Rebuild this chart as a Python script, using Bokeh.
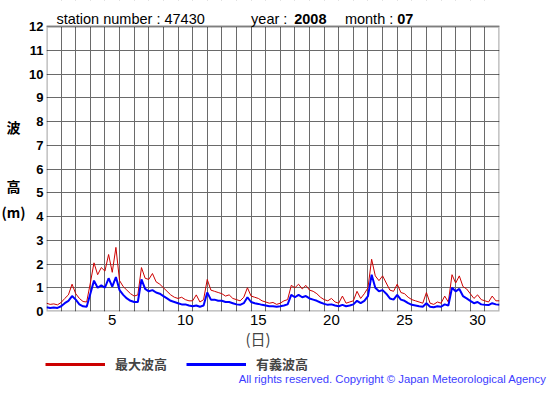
from bokeh.plotting import figure
from bokeh.models import FixedTicker, Range1d, Legend, LegendItem, Label, BoxAnnotation
from bokeh.layouts import row, column
from bokeh.embed import file_html
from bokeh.resources import INLINE

# ---- data (6-hourly samples, day 1 00h .. day 31 24h) ----
max_wave = [
    0.35, 0.30, 0.32, 0.28,
    0.38, 0.55, 0.70, 1.15,
    0.75, 0.55, 0.42, 0.40,
    1.20, 2.05, 1.55, 1.85,
    1.70, 2.40, 1.65, 2.70,
    1.30, 1.05, 0.90, 0.75,
    0.65, 0.70, 1.85, 1.40,
    1.35, 1.60, 1.25, 1.15,
    1.00, 0.85, 0.70, 0.60,
    0.55, 0.60, 0.50, 0.45,
    0.45, 0.70, 0.40, 0.50,
    1.35, 0.90, 0.85, 0.80,
    0.75, 0.65, 0.70, 0.55,
    0.50, 0.45, 0.60, 1.00,
    0.65, 0.60, 0.55, 0.45,
    0.40, 0.35, 0.38, 0.30,
    0.35, 0.45, 0.50, 1.10,
    1.00, 1.15, 0.95, 1.10,
    0.90, 0.85, 0.75, 0.60,
    0.50, 0.45, 0.55, 0.40,
    0.35, 0.65, 0.35, 0.40,
    0.45, 0.85, 0.55, 0.75,
    1.00, 2.20, 1.50, 1.30,
    1.50, 1.20, 0.90, 0.85,
    1.15, 0.80, 0.75, 0.60,
    0.50, 0.45, 0.40, 0.35,
    0.80, 0.35, 0.30, 0.40,
    0.35, 0.65, 0.40, 1.55,
    1.20, 1.50, 1.05, 0.95,
    0.75, 0.55, 0.70, 0.50,
    0.45, 0.40, 0.65, 0.45,
    0.45,
]
sig_wave = [
    0.18, 0.15, 0.17, 0.15,
    0.22, 0.35, 0.45, 0.65,
    0.50, 0.30, 0.22, 0.20,
    0.75, 1.30, 1.00, 1.10,
    1.00, 1.40, 1.05, 1.45,
    0.90, 0.70, 0.55, 0.45,
    0.40, 0.40, 1.35, 0.95,
    0.85, 0.90, 0.80, 0.75,
    0.65, 0.55, 0.45, 0.40,
    0.35, 0.30, 0.30, 0.25,
    0.22, 0.25, 0.20, 0.25,
    0.80, 0.50, 0.50, 0.45,
    0.45, 0.40, 0.40, 0.35,
    0.30, 0.28, 0.35, 0.60,
    0.40, 0.35, 0.32, 0.28,
    0.25, 0.22, 0.22, 0.20,
    0.22, 0.25, 0.30, 0.70,
    0.60, 0.70, 0.60, 0.65,
    0.55, 0.50, 0.45, 0.38,
    0.32, 0.28, 0.30, 0.25,
    0.22, 0.28, 0.22, 0.25,
    0.30, 0.45, 0.35, 0.45,
    0.65, 1.55, 1.00, 0.85,
    0.90, 0.75, 0.55, 0.50,
    0.70, 0.50, 0.45, 0.35,
    0.28, 0.25, 0.22, 0.20,
    0.35, 0.20, 0.18, 0.22,
    0.20, 0.30, 0.25, 1.00,
    0.85, 0.95, 0.65, 0.55,
    0.45, 0.35, 0.40, 0.30,
    0.28, 0.27, 0.35, 0.30,
    0.28,
]
samples_per_day = 4
n_days = 31
y_max = 12
day_labels = ["5", "10", "15", "20", "25", "30"]
y_ticks = list(range(0, y_max + 1))
title_parts = [("station number : 47430", "normal", 0.68),
               ("year :", "normal", 14.0), ("2008", "bold", 16.95),
               ("month :", "normal", 20.42), ("07", "bold", 24.0)]
series_names = ["最大波高", "有義波高"]
series_colors = ["#cc0000", "#0000ff"]
series_widths = [1, 2]
copyright_text = "All rights reserved. Copyright \u00a9 Japan Meteorological Agency"

t = [i / samples_per_day for i in range(len(max_wave))]

LAT = "Liberation Sans"
CJK = "Noto Sans CJK JP"

W, H_MAIN, H_FOOT, W_LEFT = 547, 351, 36, 26
TOP_PAD, FRAME_H, BOT = 26, 285, 40


def blank(width, height, xr, yr):
    f = figure(width=width, height=height, output_backend="svg", toolbar_location=None,
               x_range=Range1d(*xr), y_range=Range1d(*yr),
               x_axis_location=None, y_axis_location=None,
               min_border=0, min_border_left=0, min_border_right=0,
               min_border_top=0, min_border_bottom=0)
    f.outline_line_color = None
    f.background_fill_color = "white"
    f.border_fill_color = "white"
    f.xgrid.visible = False
    f.ygrid.visible = False
    return f


# ---- main plot (frame extended upward to hold the title row) ----
y_top = y_max * (FRAME_H + TOP_PAD) / FRAME_H
p = figure(width=W - W_LEFT, height=H_MAIN, output_backend="svg", toolbar_location=None,
           x_range=Range1d(0, n_days), y_range=Range1d(0, y_top),
           min_border_left=19, min_border_right=48, min_border_top=0, min_border_bottom=BOT)
p.background_fill_color = "white"
p.border_fill_color = "white"
p.outline_line_color = None

p.xgrid.ticker = FixedTicker(ticks=list(range(0, n_days + 1)))
p.ygrid.ticker = FixedTicker(ticks=y_ticks)
for g in (p.xgrid, p.ygrid):
    g.grid_line_color = "#6a6a6a"
    g.grid_line_width = 1

lab_pos = [int(s) - 0.5 for s in day_labels]
p.xaxis.ticker = FixedTicker(ticks=lab_pos)
p.xaxis.major_label_overrides = {v: s for v, s in zip(lab_pos, day_labels)}
p.yaxis.ticker = FixedTicker(ticks=y_ticks)
for ax in (p.xaxis, p.yaxis):
    ax.axis_line_color = None
    ax.major_tick_line_color = None
    ax.minor_tick_line_color = None
    ax.major_tick_out = 0
    ax.major_tick_in = 0
    ax.major_label_text_color = "black"
    ax.major_label_text_font = LAT
p.xaxis.major_label_text_font_size = "15px"
p.xaxis.major_label_standoff = 3
p.xaxis.axis_label = "(日)\u3000\u3000"
p.xaxis.axis_label_text_font = CJK
p.xaxis.axis_label_text_font_size = "15px"
p.xaxis.axis_label_text_font_style = "normal"
p.xaxis.axis_label_standoff = 0
p.yaxis.major_label_text_font_size = "13px"
p.yaxis.major_label_text_font_style = "bold"
p.yaxis.major_label_standoff = 3

for ys, col, lw in zip((max_wave, sig_wave), series_colors, series_widths):
    p.line(t, ys, line_color=col, line_width=lw)

# blank the title strip above the plot area, then draw the plot-area border
p.add_layout(BoxAnnotation(bottom=y_max, fill_color="white", fill_alpha=1, line_alpha=0))
p.add_layout(BoxAnnotation(left=0, right=n_days, bottom=0, top=y_max, fill_alpha=0,
                           line_color="black", line_width=2.5))

for txt, style, xx in title_parts:
    p.add_layout(Label(x=xx, y=12.33, text=txt, text_font=LAT, text_font_size="14.5px",
                       text_font_style=style, text_align="left", text_baseline="alphabetic",
                       text_color="black"))

# ---- left strip: y-axis title ----
lf = blank(W_LEFT, H_MAIN, (0, W_LEFT), (H_MAIN, 0))
for txt, yy in (("波", 143), ("高", 209), ("(m)", 239)):
    lf.add_layout(Label(x=13, y=yy, text=txt, text_font=CJK, text_font_size="14px",
                        text_font_style="bold", text_align="center", text_baseline="middle",
                        text_color="black"))

# ---- footer: legend + copyright ----
ft = blank(W, H_FOOT, (0, W), (H_FOOT, 0))
items = []
for name, col in zip(series_names, series_colors):
    r = ft.line(x=[-100, -90], y=[-100, -100], line_color=col, line_width=3)
    items.append(LegendItem(label=name, renderers=[r]))
legend = Legend(items=items, orientation="horizontal", location=(45, 14),
                glyph_width=60, glyph_height=18, label_standoff=10, spacing=19,
                padding=0, margin=0, border_line_alpha=0, background_fill_alpha=0,
                label_text_font=CJK, label_text_font_style="bold",
                label_text_font_size="13px")
ft.add_layout(legend)
ft.add_layout(Label(x=546, y=27, text=copyright_text, text_font=LAT, text_font_size="11.3px",
                    text_align="right", text_baseline="middle", text_color="#3c3cff"))

layout = column(row(lf, p, spacing=0), ft, spacing=0)
open("out.html", "w").write(file_html(layout, INLINE))
